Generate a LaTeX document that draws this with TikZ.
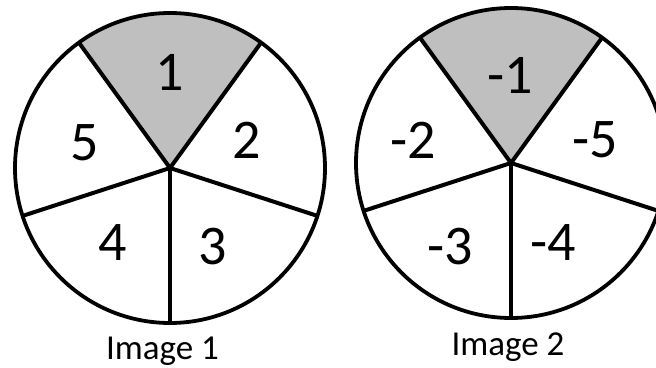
\documentclass[tikz,border=0pt]{standalone}
\usepackage{fontspec}
\setmainfont{Carlito}
\usetikzlibrary{calc}
\begin{document}
\begin{tikzpicture}[x=1pt,y=1pt,
  rim/.style={line width=3.8pt},
  spoke/.style={line width=4pt},
  lbl/.style={font=\fontsize{56}{60}\selectfont, inner sep=0pt},
  captxt/.style={font=\fontsize{35}{40}\selectfont, inner sep=0pt, anchor=base}]
\useasboundingbox (0,0) rectangle (656,367);
\clip (0,0) rectangle (656,367);
% wheel 1
\coordinate (c1) at (170,199);
\fill[fill=black!25] (c1) -- ++(54:155) arc (54:126:155) -- cycle;
\draw[rim] (c1) circle (155);
\foreach \a/\n in {126/a,54/b,-18/c,-90/d,198/e}
  \coordinate (p1\n) at ($(c1)+(\a:155)$);
\foreach \n in {a,b,c,d,e}
  \draw[spoke] (c1) -- (p1\n);
\node[lbl] (n1) at (170,295) {1};
\node[lbl] (n2) at (247,227) {2};
\node[lbl] (n3) at (213,120) {3};
\node[lbl] (n4) at (113,124) {4};
\node[lbl] (n5) at (85,224) {5};
\node[captxt] (cap1) at (162.5,8) {Image 1};
% wheel 2
\coordinate (c2) at (511,204);
\fill[fill=black!25] (c2) -- ++(54:155) arc (54:126:155) -- cycle;
\draw[rim] (c2) circle (155);
\foreach \a/\n in {126/a,54/b,-18/c,-90/d,198/e}
  \coordinate (p2\n) at ($(c2)+(\a:155)$);
\foreach \n in {a,b,c,d,e}
  \draw[spoke] (c2) -- (p2\n);
\node[lbl] (m1) at (510,292) {-1};
\node[lbl] (m5) at (595,227) {-5};
\node[lbl] (m4) at (553,124) {-4};
\node[lbl] (m3) at (450,120) {-3};
\node[lbl] (m2) at (413,227) {-2};
\node[captxt] (cap2) at (508,12) {Image 2};
\end{tikzpicture}
\end{document}
